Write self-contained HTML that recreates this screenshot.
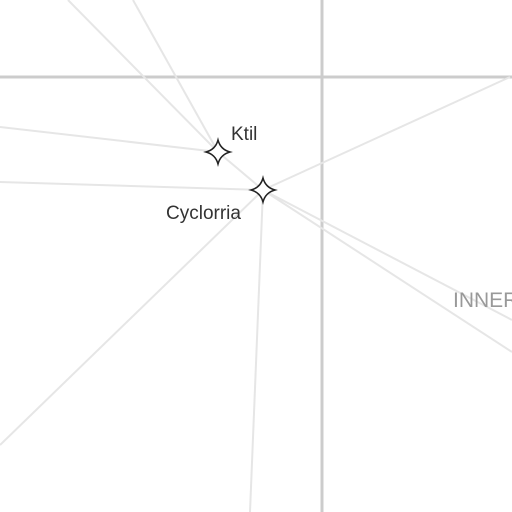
<!DOCTYPE html>
<html><head><meta charset="utf-8"><style>
html,body{margin:0;padding:0;background:#fff;}
svg{display:block;font-family:"Liberation Sans",sans-serif;}
</style></head><body>
<svg id="chart" width="512" height="512">
<line x1="0" y1="77" x2="512" y2="77" stroke="#cccccc" stroke-width="3"/>
<line x1="322" y1="0" x2="322" y2="512" stroke="#cccccc" stroke-width="3"/>
<g id="edges"></g>
<g id="nodes"></g>
<text x="453" y="307" font-size="21" fill="#999">INNER</text>
</svg>
<script>
const nodeNames = ["Ktil", "Cyclorria"];
const nodeX = [218, 263];
const nodeY = [152, 190];
const labelDx = [13, -97];
const labelDy = [-12, 29];
const edgeFrom = [[68,0],[133,0],[0,127],[0,182],[510,77],[0,445],[250,512],[512,320],[512,352]];
const edgeTo = [0,0,0,1,1,1,1,1,1];
const ns = "http://www.w3.org/2000/svg";
const eg = document.getElementById('edges');
const ng = document.getElementById('nodes');
function addLine(x1,y1,x2,y2,name){
  const l=document.createElementNS(ns,'line');
  l.setAttribute('x1',x1);l.setAttribute('y1',y1);l.setAttribute('x2',x2);l.setAttribute('y2',y2);
  l.setAttribute('stroke','#e6e6e6');l.setAttribute('stroke-width','2');
  
  
  eg.appendChild(l);
}
edgeFrom.forEach((p,i)=>addLine(p[0],p[1],nodeX[edgeTo[i]],nodeY[edgeTo[i]],'edge-'+i));
addLine(nodeX[0],nodeY[0],nodeX[1],nodeY[1],'edge-ktil-cyclorria');
nodeNames.forEach((n,i)=>{
  const x=nodeX[i],y=nodeY[i],r=12,k=2.5;
  const p=document.createElementNS(ns,'path');
  p.setAttribute('d',`M${x},${y-r} Q${x+k},${y-k} ${x+r},${y} Q${x+k},${y+k} ${x},${y+r} Q${x-k},${y+k} ${x-r},${y} Q${x-k},${y-k} ${x},${y-r}Z`);
  p.setAttribute('fill','#fff');p.setAttribute('stroke','#222');p.setAttribute('stroke-width','1.5');
  
  
  ng.appendChild(p);
  const t=document.createElementNS(ns,'text');
  t.setAttribute('x',x+labelDx[i]);t.setAttribute('y',y+labelDy[i]);
  t.setAttribute('font-size','19');t.setAttribute('fill','#333');
  t.textContent=n;
  
  
  ng.appendChild(t);
});
</script>
</body></html>
